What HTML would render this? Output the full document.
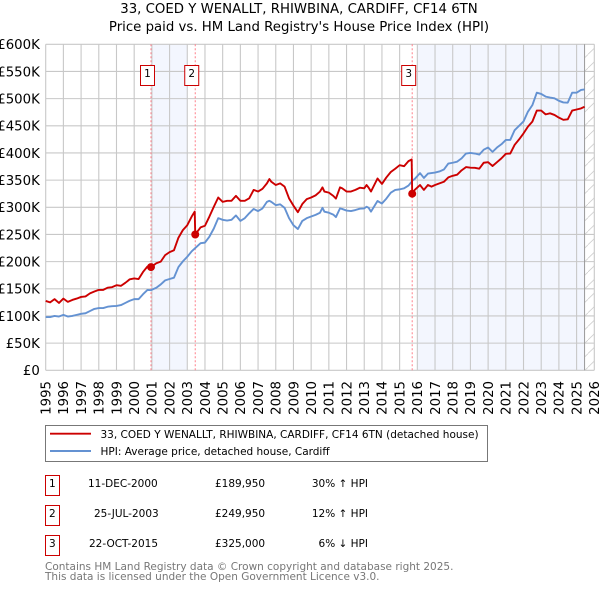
<!DOCTYPE html>
<html>
<head>
<meta charset="utf-8">
<title>33, Coed Y Wenallt price paid vs HPI</title>
<style>
html,body{margin:0;padding:0;background:#fff;}
body{width:600px;height:590px;overflow:hidden;}
svg{display:block;font-family:"DejaVu Sans","Liberation Sans",sans-serif;}
</style>
</head>
<body>
<svg id="chart" width="600" height="590" viewBox="0 0 600 590" xmlns="http://www.w3.org/2000/svg">
  <defs>
    <pattern id="hatch" patternUnits="userSpaceOnUse" width="14" height="13.6">
      <path d="M-1 14.5 L15 -0.9" stroke="#c8c8c8" stroke-width="0.7" fill="none"/>
    </pattern>
  </defs>
  <text x="299" y="13" font-size="13.3" text-anchor="middle" fill="#000">33, COED Y WENALLT, RHIWBINA, CARDIFF, CF14 6TN</text>
  <text x="299" y="31" font-size="13.3" text-anchor="middle" fill="#000">Price paid vs. HM Land Registry's House Price Index (HPI)</text>
  <g id="bands"></g>
  <g id="grid"></g>
  <g id="yticks"></g>
  <g id="xticks"></g>
  <g id="series"></g>
  <g id="sales"></g>

  <g>
    <rect x="45.5" y="425.5" width="442" height="36" fill="#fff" stroke="#777" stroke-width="1"/>
    <line x1="50" y1="433.7" x2="91" y2="433.7" stroke="#cc0000" stroke-width="1.9"/>
    <text x="100.5" y="438" font-size="10.5" fill="#000">33, COED Y WENALLT, RHIWBINA, CARDIFF, CF14 6TN (detached house)</text>
    <line x1="50" y1="451" x2="91" y2="451" stroke="#6492d2" stroke-width="1.9"/>
    <text x="100.5" y="455" font-size="10.5" fill="#000">HPI: Average price, detached house, Cardiff</text>
  </g>

  <g font-size="10.5" fill="#000">
    <rect x="45.5" y="475.5" width="14" height="20" fill="#fff" stroke="#cc0000" stroke-width="1"/>
    <text x="52.3" y="487" text-anchor="middle">1</text>
    <text x="88" y="487">11-DEC-2000</text>
    <text x="215" y="487">£189,950</text>
    <text x="368" y="487" text-anchor="end">30% ↑ HPI</text>
    <rect x="45.5" y="505.5" width="14" height="20" fill="#fff" stroke="#cc0000" stroke-width="1"/>
    <text x="52.3" y="517" text-anchor="middle">2</text>
    <text x="94" y="517">25-JUL-2003</text>
    <text x="215" y="517">£249,950</text>
    <text x="368" y="517" text-anchor="end">12% ↑ HPI</text>
    <rect x="45.5" y="535.5" width="14" height="20" fill="#fff" stroke="#cc0000" stroke-width="1"/>
    <text x="52.3" y="547" text-anchor="middle">3</text>
    <text x="89" y="547">22-OCT-2015</text>
    <text x="215" y="547">£325,000</text>
    <text x="368" y="547" text-anchor="end">6% ↓ HPI</text>
  </g>

  <text x="45" y="570" font-size="10.5" fill="#777">Contains HM Land Registry data © Crown copyright and database right 2025.</text>
  <text x="45" y="580" font-size="10.5" fill="#777">This data is licensed under the Open Government Licence v3.0.</text>
</svg>

<script>
var yTickValues = [0, 50, 100, 150, 200, 250, 300, 350, 400, 450, 500, 550, 600];
var yTickLabels = ['£0', '£50K', '£100K', '£150K', '£200K', '£250K', '£300K', '£350K', '£400K', '£450K', '£500K', '£550K', '£600K'];
var xTickYears = [1995, 1996, 1997, 1998, 1999, 2000, 2001, 2002, 2003, 2004, 2005, 2006, 2007, 2008, 2009, 2010, 2011, 2012, 2013, 2014, 2015, 2016, 2017, 2018, 2019, 2020, 2021, 2022, 2023, 2024, 2025, 2026];

var dates = [
  1995, 1995.25, 1995.5, 1995.75, 1996, 1996.25, 1996.5, 1996.75, 1997, 1997.25, 1997.5, 1997.75,
  1998, 1998.25, 1998.5, 1998.75, 1999, 1999.25, 1999.5, 1999.75, 2000, 2000.25, 2000.5, 2000.75,
  2000.95, 2001.25, 2001.5, 2001.75, 2002, 2002.25, 2002.5, 2002.75, 2003, 2003.25, 2003.42, 2003.45, 2003.75,
  2004, 2004.25, 2004.5, 2004.75, 2005, 2005.25, 2005.5, 2005.75, 2006, 2006.25, 2006.5, 2006.75,
  2007, 2007.25, 2007.5, 2007.64, 2007.75, 2008, 2008.25, 2008.5, 2008.75, 2009, 2009.25, 2009.5, 2009.75,
  2010, 2010.25, 2010.5, 2010.64, 2010.75, 2011, 2011.25, 2011.4, 2011.63, 2011.75,
  2012, 2012.25, 2012.5, 2012.75, 2013, 2013.13, 2013.25, 2013.38, 2013.75,
  2014, 2014.25, 2014.5, 2014.75, 2015, 2015.25, 2015.5, 2015.68, 2015.71, 2015.85,
  2016.15, 2016.37, 2016.6, 2016.8, 2017, 2017.25, 2017.5, 2017.75,
  2018, 2018.25, 2018.5, 2018.75, 2019, 2019.25, 2019.5, 2019.75,
  2020, 2020.25, 2020.5, 2020.75, 2021, 2021.25, 2021.5, 2021.75,
  2022, 2022.25, 2022.5, 2022.75, 2023, 2023.25, 2023.5, 2023.75,
  2024, 2024.25, 2024.5, 2024.75, 2025, 2025.25, 2025.45
];
var hpiValues = [
  98, 98, 100, 99, 102, 99, 100, 102, 104, 105, 109, 113,
  114.5, 114.5, 117, 118, 118.5, 120, 124, 128, 131, 131, 140, 148,
  147.5, 152, 158, 165.5, 168, 170.5, 190, 200.5, 209, 219, 224, 225, 234,
  235, 246, 261, 280, 277, 275.5, 277, 285, 275, 280, 289, 297,
  293, 298, 310, 312, 310, 304, 305.5, 299, 280, 267, 260, 275, 280,
  283, 286, 290, 299, 292, 290, 286.6, 282, 298, 297,
  294, 293, 295, 297.5, 298, 301, 299, 292, 311.6,
  307, 316, 327, 332, 333, 335, 340, 347, 349, 352,
  363, 354, 362, 363, 364, 366, 369.5, 380.5,
  382, 384, 390, 399, 400, 399, 397, 406,
  410, 402, 410, 416, 424, 424, 442, 450,
  458, 476, 488, 511, 508.6, 503.7, 502, 500.6,
  496, 493, 492.6, 511, 511, 516, 517
];
var priceValues = [
  127.7, 125, 131, 124, 132, 126, 129.5, 132, 135, 136, 141.6, 145,
  148, 148, 152, 153, 156.6, 155.4, 161, 167.5, 169, 168, 181, 191,
  189.95, 197, 200, 212, 217.5, 221, 244, 258, 267, 283, 292, 249.95, 263,
  266, 283, 301, 318, 310, 312, 312, 321, 312, 312, 316.5, 332,
  329, 334, 344, 352, 347, 341, 344, 338, 316.5, 303, 291, 306, 315,
  318, 322, 329, 336.6, 329, 327, 321, 316, 336.6, 335,
  329, 329, 332, 336, 335, 341, 336, 329, 353,
  343, 355, 365, 371, 377.5, 375.6, 385, 388, 325, 332,
  341, 332, 341, 338, 341, 344, 347, 355,
  358, 360, 368, 374, 373, 372.6, 371, 382,
  383, 376, 383, 390, 398.5, 399, 415, 425,
  436, 448.5, 457.7, 478, 478, 471, 473, 470,
  465, 461, 462, 478, 480, 482, 485
];

var saleDates = [2000.95, 2003.45, 2015.71];
var salePrices = [189.95, 249.95, 325];
var saleLabels = ['1', '2', '3'];

var bandStarts = [2001, 2016];
var bandEnds = [2003, 2025.45];
var dataEndYear = 2025.45;

var NS = 'http://www.w3.org/2000/svg';
var plotLeft = 45.7, plotRight = 594.3, plotTop = 44.3, plotBottom = 370.3;
function xScale(year) { return plotLeft + (year - 1995) * (plotRight - plotLeft) / 31; }
function yScale(value) { return plotBottom - value * (plotBottom - plotTop) / 600; }
function make(tag, attrs) {
  var el = document.createElementNS(NS, tag);
  for (var k in attrs) { el.setAttribute(k, attrs[k]); }
  return el;
}

var bandsGroup = document.getElementById('bands');
var gridGroup = document.getElementById('grid');
var yGroup = document.getElementById('yticks');
var xGroup = document.getElementById('xticks');
var seriesGroup = document.getElementById('series');
var salesGroup = document.getElementById('sales');

bandStarts.forEach(function (start, i) {
  var band = make('rect', { x: xScale(start), y: plotTop, width: xScale(bandEnds[i]) - xScale(start), height: plotBottom - plotTop, fill: '#f3f6fe' });
  
  
  bandsGroup.appendChild(band);
});

var hatchRect = make('rect', { x: xScale(dataEndYear), y: plotTop, width: plotRight - xScale(dataEndYear), height: plotBottom - plotTop, fill: 'url(#hatch)' });


bandsGroup.appendChild(hatchRect);

yTickValues.forEach(function (value, i) {
  var line = make('line', { x1: plotLeft, x2: plotRight, y1: yScale(value), y2: yScale(value), stroke: '#c8c8c8', 'stroke-width': 1.1 });
  
  
  gridGroup.appendChild(line);
  var label = make('text', { x: 39.8, y: yScale(value) + 4.8, 'font-size': 13.3, 'text-anchor': 'end', fill: '#000' });
  
  
  label.textContent = yTickLabels[i];
  yGroup.appendChild(label);
});

xTickYears.forEach(function (year) {
  var px = xScale(year);
  var line = make('line', { x1: px, x2: px, y1: plotTop, y2: plotBottom, stroke: '#c8c8c8', 'stroke-width': 1.1 });
  
  
  gridGroup.appendChild(line);
  var label = make('text', { transform: 'translate(' + (px + 4.8) + ',381) rotate(-90)', 'font-size': 13.3, 'text-anchor': 'end', fill: '#000' });
  
  
  label.textContent = String(year);
  xGroup.appendChild(label);
});

var endLine = make('line', { x1: xScale(dataEndYear), x2: xScale(dataEndYear), y1: plotTop, y2: plotBottom, stroke: '#999', 'stroke-width': 1 });


gridGroup.appendChild(endLine);

saleDates.forEach(function (date) {
  var px = xScale(date);
  var guide = make('line', { x1: px, x2: px, y1: plotTop, y2: plotBottom, stroke: '#ff7f8a', 'stroke-width': 1, 'stroke-dasharray': '2 2' });
  
  
  seriesGroup.appendChild(guide);
});

function pointsFor(values) {
  return values.map(function (v, i) { return xScale(dates[i]).toFixed(2) + ',' + yScale(v).toFixed(2); }).join(' ');
}

var hpiLine = make('polyline', { points: pointsFor(hpiValues), fill: 'none', stroke: '#6492d2', 'stroke-width': 1.9, 'stroke-linejoin': 'round' });


seriesGroup.appendChild(hpiLine);

var priceLine = make('polyline', { points: pointsFor(priceValues), fill: 'none', stroke: '#cc0000', 'stroke-width': 1.9, 'stroke-linejoin': 'round' });


seriesGroup.appendChild(priceLine);

saleDates.forEach(function (date, i) {
  var px = xScale(date);
  var marker = make('circle', { cx: px, cy: yScale(salePrices[i]), r: 4, fill: '#cc0000' });
  
  
  salesGroup.appendChild(marker);
  var badge = make('rect', { x: px - 10.5, y: 65.5, width: 14, height: 20, fill: '#fff', stroke: '#cc0000', 'stroke-width': 1 });
  
  
  salesGroup.appendChild(badge);
  var text = make('text', { x: px - 3.5, y: 77, 'font-size': 10.5, 'text-anchor': 'middle', fill: '#000' });
  
  
  text.textContent = saleLabels[i];
  salesGroup.appendChild(text);
});
</script>
</body>
</html>
